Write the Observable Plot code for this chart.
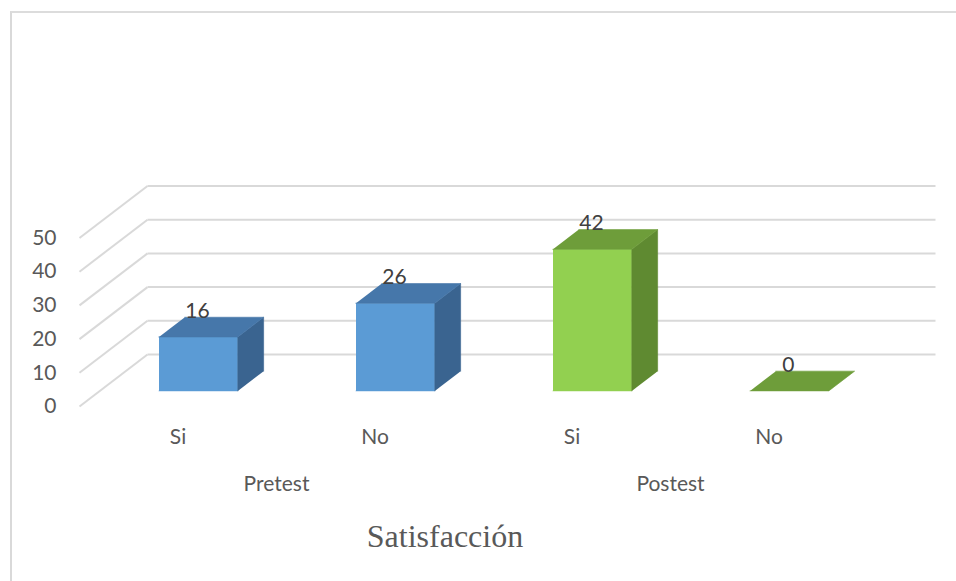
<!DOCTYPE html>
<html>
<head>
<meta charset="utf-8">
<script src="https://cdn.jsdelivr.net/npm/d3@7"></script>
<script src="https://cdn.jsdelivr.net/npm/@observablehq/plot@0.6"></script>
<style>
  html, body { margin: 0; padding: 0; background: #fff; overflow: hidden; }
  #wrap { position: relative; width: 956px; height: 581px; }
  #frame { position: absolute; left: 10px; top: 11px; width: 1200px; height: 800px;
           border-left: 2px solid #d9d9d9; border-top: 2px solid #dcdcdc; box-sizing: border-box; }
  #chart { position: absolute; left: 0; top: 0; }
  #title { position: absolute; left: 0; width: 890px; top: 520px; text-align: center;
           font-family: "Liberation Serif", "Times New Roman", serif; font-size: 32px; line-height: 32px; color: #595959; }
</style>
</head>
<body>
<div id="wrap">
  <div id="frame"></div>
  <div id="chart"></div>
  <div id="title">Satisfacción</div>
</div>
<script>
// ---- data ----
const categories = ["Si", "No", "Si", "No"];
const groups = ["Pretest", "Postest"];
const values = [16, 26, 42, 0];
const yTicks = [0, 10, 20, 30, 40, 50];
const frontColors = ["#5B9BD5", "#5B9BD5", "#92D050", "#92D050"];
const topColors   = ["#4677AA", "#4677AA", "#6E9D3A", "#6E9D3A"];
const sideColors  = ["#3A6490", "#3A6490", "#5F8A31", "#5F8A31"];

// ---- 3D projection parameters (in data units) ----
const W = 956, H = 581;
const PX_PER_CAT = 197, PX_PER_UNIT = 3.37, Y0 = 406;
const DX = 68 / PX_PER_CAT;      // depth shift in category units
const DY = 52 / PX_PER_UNIT;     // depth shift in value units
const B0 = 0.3, B1 = 0.7;        // bar extent within category
const Z0 = 0.3, Z1 = 0.68;       // bar extent in depth
const P = (x, v, z) => ({x: x + z * DX, y: v + z * DY});

// ---- faces ----
const rows = [];
values.forEach((v, i) => {
  const xa = i + B0, xb = i + B1;
  const faces = [];
  if (v > 0) {
    faces.push({id: `f${i}`, color: frontColors[i], pts: [P(xa, 0, Z0), P(xb, 0, Z0), P(xb, v, Z0), P(xa, v, Z0)]});
    faces.push({id: `s${i}`, color: sideColors[i], pts: [P(xb, 0, Z0), P(xb, v, Z0), P(xb, v, Z1), P(xb, 0, Z1)]});
  }
  faces.push({id: `t${i}`, color: topColors[i], pts: [P(xa, v, Z0), P(xb, v, Z0), P(xb, v, Z1), P(xa, v, Z1)]});
  for (const f of faces) for (const p of f.pts) rows.push({id: f.id, color: f.color, x: p.x, y: p.y});
});

const labelRows = values.map((v, i) => ({v, x: i + 0.5 + Z0 * DX, y: v + Z1 * DY}));

const chart = Plot.plot({
  width: W,
  height: H,
  marginLeft: 79,
  marginRight: 21,
  marginTop: 0,
  marginBottom: 0,
  style: {fontFamily: "Lato, 'Open Sans', sans-serif", fontSize: "21px", color: "#595959", background: "transparent", overflow: "visible"},
  x: {domain: [0, categories.length + DX], axis: null},
  y: {domain: [-(H - Y0) / PX_PER_UNIT, Y0 / PX_PER_UNIT], ticks: yTicks, tickSize: 0, tickPadding: 23, label: null, tickFormat: d => String(d)},
  color: {type: "identity"},
  marks: [
    // side wall diagonals
    Plot.link(yTicks, {x1: () => 0, y1: t => t, x2: () => DX, y2: t => t + DY, stroke: "#d9d9d9", strokeWidth: 2}),
    // back wall lines
    Plot.link(yTicks, {x1: () => DX, y1: t => t + DY, x2: () => categories.length + DX, y2: t => t + DY, stroke: "#d9d9d9", strokeWidth: 2}),
    // bar faces
    Plot.line(rows, {x: "x", y: "y", z: "id", fill: "color", stroke: "color", strokeWidth: 0.6, curve: "linear"}),
    // data labels
    Plot.text(labelRows, {x: "x", y: "y", text: d => String(d.v), dx: -1, dy: -6, fill: "#404040", fontSize: 21}),
    // category labels
    Plot.text(categories, {x: (d, i) => i + 0.5, y: () => 0, text: d => d, dy: 31, fill: "#595959", fontSize: 21}),
    // group labels
    Plot.text(groups, {x: (d, i) => 1 + 2 * i, y: () => 0, text: d => d, dy: 78, fill: "#595959", fontSize: 21})
  ]
});
document.getElementById("chart").appendChild(chart);
</script>
</body>
</html>
